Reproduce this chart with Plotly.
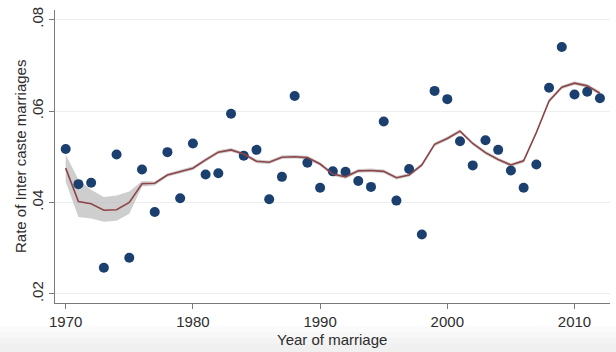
import plotly.graph_objects as go

years = list(range(1970, 2013))
rate = [0.0517, 0.0440, 0.0443, 0.0257, 0.0505, 0.0279, 0.0472, 0.0379, 0.0510, 0.0409,
        0.0529, 0.0461, 0.0464, 0.0594, 0.0502, 0.0515, 0.0407, 0.0456, 0.0633, 0.0487,
        0.0432, 0.0468, 0.0467, 0.0447, 0.0434, 0.0577, 0.0404, 0.0473, 0.0330, 0.0644,
        0.0626, 0.0534, 0.0481, 0.0536, 0.0515, 0.0470, 0.0432, 0.0483, 0.0651, 0.0740,
        0.0636, 0.0642, 0.0628]
smooth = [0.0475, 0.0402, 0.0397, 0.0383, 0.0384, 0.0400, 0.0441, 0.0442, 0.0460, 0.0467,
          0.0475, 0.0493, 0.0510, 0.0515, 0.0506, 0.0490, 0.0488, 0.0499, 0.0500, 0.0498,
          0.0484, 0.0462, 0.0456, 0.0469, 0.0470, 0.0468, 0.0454, 0.0460, 0.0482, 0.0527,
          0.0540, 0.0556, 0.0529, 0.0509, 0.0494, 0.0482, 0.0491, 0.0553, 0.0622, 0.0652,
          0.0661, 0.0655, 0.0639]
ci_hi = [0.0505, 0.0450, 0.0428, 0.0412, 0.0415, 0.0424, 0.0447, 0.0446, 0.0464, 0.0471,
         0.0479, 0.0497, 0.0514, 0.0519, 0.0510, 0.0494, 0.0492, 0.0503, 0.0504, 0.0502,
         0.0488, 0.0466, 0.0460, 0.0473, 0.0474, 0.0472, 0.0458, 0.0464, 0.0486, 0.0531,
         0.0544, 0.0560, 0.0533, 0.0513, 0.0498, 0.0486, 0.0495, 0.0557, 0.0626, 0.0656,
         0.0665, 0.0659, 0.0643]
ci_lo = [0.0445, 0.0368, 0.0365, 0.0358, 0.0360, 0.0375, 0.0435, 0.0437, 0.0456, 0.0463,
         0.0471, 0.0489, 0.0506, 0.0511, 0.0502, 0.0486, 0.0484, 0.0495, 0.0496, 0.0494,
         0.0480, 0.0458, 0.0452, 0.0465, 0.0466, 0.0464, 0.0450, 0.0456, 0.0478, 0.0523,
         0.0536, 0.0552, 0.0525, 0.0505, 0.0490, 0.0478, 0.0487, 0.0549, 0.0618, 0.0648,
         0.0657, 0.0651, 0.0635]
y_ticks = [0.02, 0.04, 0.06, 0.08]
y_ticklabels = [".02", ".04", ".06", ".08"]
x_ticks = [1970, 1980, 1990, 2000, 2010]

FONT = "Liberation Sans, Arial, Helvetica, sans-serif"
TXT = "#2d2d2d"

fig = go.Figure()
fig.add_trace(go.Scatter(x=years, y=ci_hi, mode="lines", line=dict(width=0),
                         hoverinfo="skip", showlegend=False))
fig.add_trace(go.Scatter(x=years, y=ci_lo, mode="lines", line=dict(width=0),
                         fill="tonexty", fillcolor="rgba(190,190,190,0.75)",
                         hoverinfo="skip", showlegend=False))
fig.add_trace(go.Scatter(x=years, y=rate, mode="markers",
                         marker=dict(size=10, color="#1b3f6e"), showlegend=False))
fig.add_trace(go.Scatter(x=years, y=smooth, mode="lines",
                         line=dict(color="#8e4448", width=1.6), showlegend=False))

# faint grey fade at the bottom edge of the picture
H = 293.0
strips = [(326, 332, "#fbfbfb"), (332, 338, "#f7f7f7"), (338, 344, "#f3f3f3"),
          (344, 353, "#f0f0f0")]
shapes = [dict(type="rect", xref="paper", yref="paper", x0=-0.2, x1=1.2,
               y0=(303 - b) / H, y1=(303 - a) / H, fillcolor=c, line=dict(width=0),
               layer="below") for a, b, c in strips]

fig.update_layout(
    width=616, height=352,
    margin=dict(l=55, r=6, t=10, b=49),
    paper_bgcolor="white", plot_bgcolor="white",
    font=dict(family=FONT, size=15, color=TXT),
    shapes=shapes,
    xaxis=dict(range=[1969.16, 2012.79], tickvals=x_ticks, showgrid=False,
               zeroline=False, showline=True, linecolor="#7a7a7a", linewidth=1,
               ticks="outside", ticklen=5, tickcolor="#7a7a7a",
               tickfont=dict(size=15, color=TXT)),
    yaxis=dict(range=[0.0180, 0.0821], tickvals=y_ticks, ticktext=y_ticklabels,
               showgrid=True, gridcolor="#eeeeee", gridwidth=1, zeroline=False,
               showline=True, linecolor="#7a7a7a", linewidth=1,
               ticks="outside", ticklen=5, tickcolor="#7a7a7a", tickangle=-90,
               tickfont=dict(size=15, color=TXT)),
    annotations=[
        dict(text="Year of marriage", xref="paper", yref="paper",
             x=(332 - 55) / 555, y=(303 - 339) / 293, xanchor="center", yanchor="middle",
             showarrow=False, font=dict(size=15, color=TXT)),
        dict(text="Rate of Inter caste marriages", xref="paper", yref="paper",
             x=(20 - 55) / 555, y=(303 - 157) / 293, xanchor="center", yanchor="middle",
             textangle=-90, showarrow=False, font=dict(size=15, color=TXT)),
    ],
)
fig.write_html("out.html")
